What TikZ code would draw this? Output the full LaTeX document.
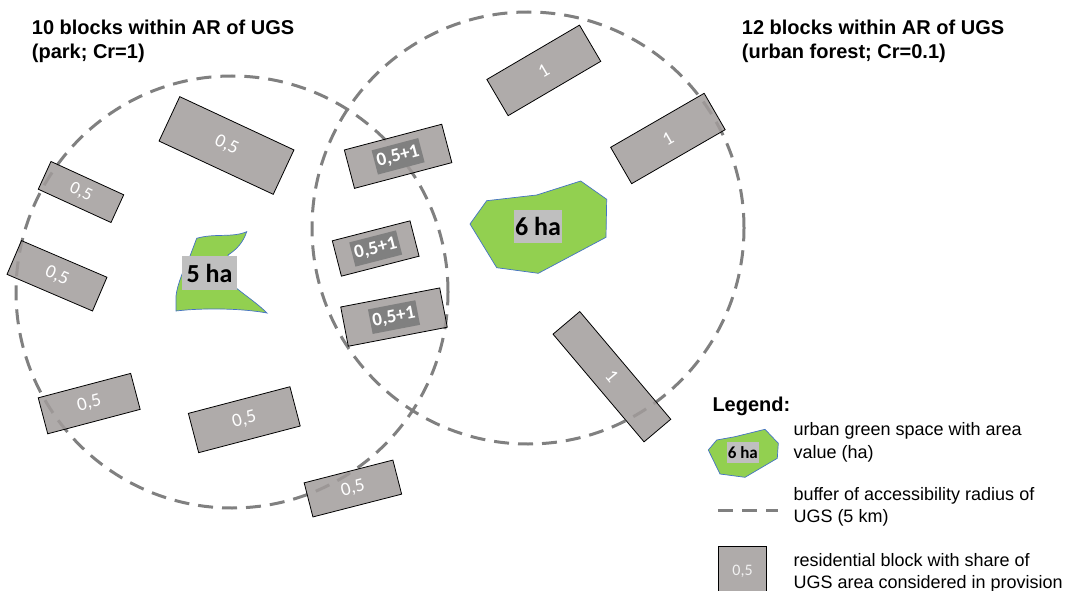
\documentclass[tikz,border=0pt]{standalone}
\usepackage{fontspec}
\setmainfont{Liberation Sans}
\newfontfamily\calfont{Carlito}
\definecolor{blockfill}{RGB}{161,156,155}
\definecolor{dashgray}{RGB}{128,128,128}
\definecolor{sumgray}{RGB}{128,128,128}
\definecolor{haboxgray}{RGB}{191,191,191}
\definecolor{ugsgreen}{RGB}{146,208,80}
\definecolor{ugsline}{RGB}{68,114,196}
\tikzset{
  buffer/.style={draw=dashgray, line width=3pt, dash pattern=on 15pt off 9pt},
  resblock/.style={draw=black, line width=0.8pt, fill=blockfill, fill opacity=0.85, text opacity=1,
    inner sep=0pt, text=white, font=\calfont\fontsize{19}{19}\selectfont},
  sumlab/.style={fill=sumgray, text=white, inner xsep=2.5pt, inner ysep=0pt, minimum height=25pt,
    font=\calfont\bfseries\fontsize{19}{19}\selectfont},
  ugs/.style={fill=ugsgreen, draw=ugsline, line width=0.7pt},
  halab/.style={fill=haboxgray, text=black, inner sep=0pt, font=\calfont\bfseries\fontsize{26}{26}\selectfont},
  titletxt/.style={anchor=base west, inner sep=0pt, font=\bfseries\fontsize{20}{24}\selectfont},
  legtxt/.style={anchor=base west, inner sep=0pt, font=\fontsize{18}{22}\selectfont},
}
\begin{document}
\begin{tikzpicture}[x=1pt, y=-1pt]
\useasboundingbox (0,0) rectangle (1073,591);
% buffers
\draw[buffer] (232,292) circle (216pt);
\draw[buffer] (528,228) circle (216pt);
% residential blocks
\node[resblock, minimum width=126pt, minimum height=49pt, rotate=-25] (a) at (226.5,145.5) {0,5};
\node[resblock, minimum width=80pt, minimum height=30.5pt, rotate=-24.6, font=\calfont\fontsize{18}{18}\selectfont] (b) at (81,192) {0,5};
\node[resblock, minimum width=93pt, minimum height=36.7pt, rotate=-23.2] (c) at (57,275.8) {0,5};
\node[resblock, minimum width=95.6pt, minimum height=37.2pt, rotate=14.8] (d) at (89.2,403.6) {0,5};
\node[resblock, minimum width=105pt, minimum height=40.6pt, rotate=14.7] (e) at (244.3,419.7) {0,5};
\node[resblock, minimum width=91.6pt, minimum height=35.2pt, rotate=14.4] (f) at (352.9,488.5) {0,5};
\node[resblock, minimum width=100.7pt, minimum height=39.7pt, rotate=14.8] (g) at (398.1,156.3) {};
\node[resblock, minimum width=80.2pt, minimum height=36.5pt, rotate=14.4] (h) at (375.7,248.5) {};
\node[resblock, minimum width=100.8pt, minimum height=40pt, rotate=10.9] (i) at (394,317.1) {};
\node[resblock, minimum width=107.4pt, minimum height=42pt, rotate=30.4] (j) at (543.8,70.4) {1};
\node[resblock, minimum width=108pt, minimum height=42pt, rotate=30] (k) at (667.9,138.5) {1};
\node[resblock, minimum width=141pt, minimum height=35pt, rotate=-49.8] (l) at (611.9,376.7) {1};
\node[sumlab, rotate=14.8] (glab) at (g.center) {0,5+1};
\node[sumlab, rotate=14.4] (hlab) at (h.center) {0,5+1};
\node[sumlab, rotate=10.9] (ilab) at (i.center) {0,5+1};
% green spaces
\draw[ugs] (196.7,238.3) .. controls (215,233) and (232,238) .. (246.7,231.7)
  .. controls (243,243) and (236,250) .. (228,255) -- (235,287)
  .. controls (246,296) and (258,304) .. (267,313)
  .. controls (240,308) and (200,308) .. (176,311) -- (176,296)
  .. controls (177,285) and (185,266) .. (190,256) -- cycle;
\node[halab, minimum width=55.6pt, minimum height=34pt] (ha5) at (209.5,273) {5 ha};
\draw[ugs] (470,224) -- (486.7,200.7) -- (536.7,195) -- (580.7,181) -- (606.7,199.3)
  -- (606,237.3) -- (538.3,273.3) -- (496.7,267.7) -- cycle;
\node[halab, minimum width=48pt, minimum height=33pt] (ha6) at (538,226.5) {6 ha};
% titles
\node[titletxt] (t1a) at (31.7,34.3) {10 blocks within AR of UGS};
\node[titletxt] (t1b) at (31.7,59) {(park; Cr=1)};
\node[titletxt] (t2a) at (741.7,34.3) {12 blocks within AR of UGS};
\node[titletxt] (t2b) at (741.7,59) {(urban forest; Cr=0.1)};
% legend
\node[titletxt] (leg) at (712.3,411) {Legend:};
\draw[ugs] (708.3,450) -- (716.7,440) -- (735,436.7) -- (765,429.3) -- (778.3,443.3)
  -- (777.3,458.3) -- (745,477.3) -- (720,474) -- cycle;
\node[halab, minimum width=32.3pt, minimum height=21pt, font=\calfont\bfseries\fontsize{17}{17}\selectfont] (legha) at (742.8,452.2) {6 ha};
\coordinate (lds) at (718,510);
\coordinate (lde) at (778,510);
\draw[buffer] (lds) -- (lde);
\node[resblock, minimum width=48.4pt, minimum height=48.4pt, text=white!90!gray, font=\calfont\fontsize{16}{16}\selectfont] (legblk) at (742.5,570.9) {0,5};
\node[legtxt] (l1a) at (793.3,435) {urban green space with area};
\node[legtxt] (l1b) at (793.3,458.3) {value (ha)};
\node[legtxt] (l2a) at (793.3,500.5) {buffer of accessibility radius of};
\node[legtxt] (l2b) at (793.3,522.7) {UGS (5 km)};
\node[legtxt] (l3a) at (793.3,566.7) {residential block with share of};
\node[legtxt] (l3b) at (793.3,588.3) {UGS area considered in provision};
\end{tikzpicture}
\end{document}
